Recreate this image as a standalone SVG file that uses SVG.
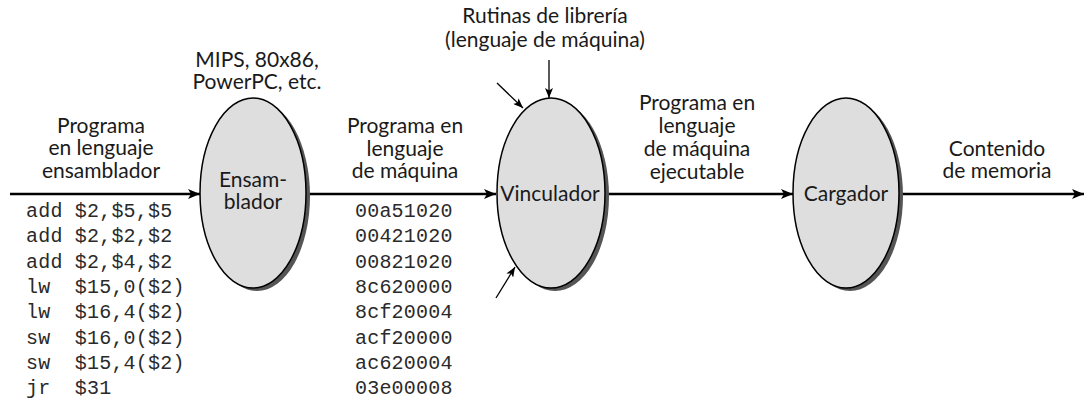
<svg xmlns="http://www.w3.org/2000/svg" width="1090" height="402" viewBox="0 0 1090 402">
<defs>
<marker id="ah" viewBox="0 0 12 10" refX="12" refY="5" markerWidth="12" markerHeight="10" markerUnits="userSpaceOnUse" orient="auto">
<path d="M0,0 L12,5 L0,10 L3,5 Z" fill="#000"/>
</marker>
<marker id="ahs" viewBox="0 0 10 8" refX="10" refY="4" markerWidth="10" markerHeight="8" markerUnits="userSpaceOnUse" orient="auto">
<path d="M0,0 L10,4 L0,8 L2.5,4 Z" fill="#000"/>
</marker>
</defs>
<style>
.lbl{font-family:Lato,"Open Sans",sans-serif;font-size:21px;fill:#1a1a1a;text-anchor:middle}
.code{font-family:"Liberation Mono","Courier New",monospace;font-size:20px;fill:#2a2a2a;letter-spacing:0.2px;white-space:pre}
.shadow{fill:#555}
.body{fill:#dedede;stroke:#000;stroke-width:1.5}
.main{stroke:#000;stroke-width:2.5;fill:none;marker-end:url(#ah)}
.thin{stroke:#000;stroke-width:1.3;fill:none;marker-end:url(#ahs)}
</style>
<rect width="1090" height="402" fill="#fff"/>
<g id="connectors">
<line class="main" x1="10" y1="194" x2="200" y2="194"/>
<line class="main" x1="306" y1="194" x2="496" y2="194"/>
<line class="main" x1="606" y1="194" x2="793" y2="194"/>
<line class="main" x1="899" y1="194" x2="1084" y2="194"/>
<line class="thin" x1="549" y1="60" x2="549" y2="98"/>
<line class="thin" x1="497" y1="83" x2="523" y2="108"/>
<line class="thin" x1="496" y1="298" x2="515" y2="267"/>
</g>
<g id="ensamblador">
<ellipse class="shadow" cx="257" cy="196" rx="53" ry="95"/>
<ellipse class="body" cx="253" cy="193" rx="53" ry="95"/>
<text class="lbl" x="253" y="187">Ensam-</text>
<text class="lbl" x="253" y="209">blador</text>
</g>
<g id="vinculador">
<ellipse class="shadow" cx="555" cy="196" rx="54" ry="95"/>
<ellipse class="body" cx="551" cy="193" rx="54" ry="95"/>
<text class="lbl" x="550" y="201">Vinculador</text>
</g>
<g id="cargador">
<ellipse class="shadow" cx="850" cy="196" rx="53" ry="95"/>
<ellipse class="body" cx="846" cy="193" rx="53" ry="95"/>
<text class="lbl" x="846" y="201">Cargador</text>
</g>
<g id="labels">
<text class="lbl" x="101" y="133">Programa</text>
<text class="lbl" x="101" y="155">en lenguaje</text>
<text class="lbl" x="101" y="178">ensamblador</text>
<text class="lbl" x="257" y="67">MIPS, 80x86,</text>
<text class="lbl" x="257" y="89">PowerPC, etc.</text>
<text class="lbl" x="405" y="133">Programa en</text>
<text class="lbl" x="405" y="156">lenguaje</text>
<text class="lbl" x="405" y="178">de máquina</text>
<text class="lbl" x="545" y="23">Rutinas de librería</text>
<text class="lbl" x="545" y="47">(lenguaje de máquina)</text>
<text class="lbl" x="697" y="110">Programa en</text>
<text class="lbl" x="697" y="133">lenguaje</text>
<text class="lbl" x="697" y="156">de máquina</text>
<text class="lbl" x="697" y="179">ejecutable</text>
<text class="lbl" x="997" y="156">Contenido</text>
<text class="lbl" x="997" y="178">de memoria</text>
</g>
<g id="assembly">
<text class="code" x="26" y="217" xml:space="preserve">add $2,$5,$5</text>
<text class="code" x="26" y="242" xml:space="preserve">add $2,$2,$2</text>
<text class="code" x="26" y="268" xml:space="preserve">add $2,$4,$2</text>
<text class="code" x="26" y="293" xml:space="preserve">lw  $15,0($2)</text>
<text class="code" x="26" y="318" xml:space="preserve">lw  $16,4($2)</text>
<text class="code" x="26" y="344" xml:space="preserve">sw  $16,0($2)</text>
<text class="code" x="26" y="369" xml:space="preserve">sw  $15,4($2)</text>
<text class="code" x="26" y="394" xml:space="preserve">jr  $31</text>
</g>
<g id="machine">
<text class="code" x="355" y="217">00a51020</text>
<text class="code" x="355" y="242">00421020</text>
<text class="code" x="355" y="268">00821020</text>
<text class="code" x="355" y="293">8c620000</text>
<text class="code" x="355" y="318">8cf20004</text>
<text class="code" x="355" y="344">acf20000</text>
<text class="code" x="355" y="369">ac620004</text>
<text class="code" x="355" y="394">03e00008</text>
</g>
</svg>
